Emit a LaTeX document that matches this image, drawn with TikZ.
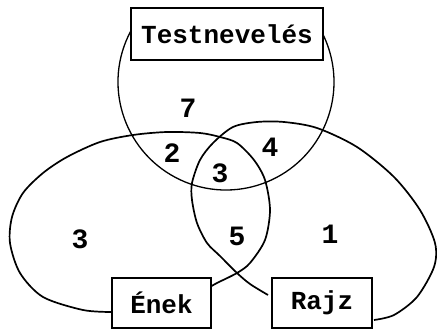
\documentclass[tikz,border=0pt]{standalone}
\usepackage{fontspec}
\setmonofont{Liberation Mono}
\usepackage{tikz}

\begin{document}
\begin{tikzpicture}[x=1pt,y=1pt,
            set/.style={line width=1.7pt},
            box/.style={draw, line width=1.8pt, fill=white, inner sep=0pt,
                font=\ttfamily\bfseries\fontsize{26}{26}\selectfont},
            count/.style={font=\ttfamily\bfseries\fontsize{28}{28}\selectfont}]
            \useasboundingbox (0,0) rectangle (437,329);
            % Testneveles
            \draw[set, line width=1.3pt] (226,247) ++(152:108) arc[start angle=152, end angle=386, radius=108];
            % Enek
            \draw[set] plot[smooth] coordinates {(112,17) (83,19) (43,32) (20,56) (10,86) (12,112) (23,136)
                (43,156) (67,172) (100,187) (133,194) (167,197) (200,196) (220,192) (237,186) (254,169)
                (265,149) (270,119) (265,89) (250,66) (237,56) (217,46) (210,42)};
            % Rajz
            \draw[set] plot[smooth] coordinates {(268,34) (250,45) (237,56) (220,73) (207,86) (197,106)
                (192,129) (192,146) (200,169) (213,186) (233,202) (257,207) (284,207) (317,201) (357,182)
                (394,152) (420,119) (435,86) (434,62) (417,32) (394,14) (374,9)};
            \node[box, minimum width=192, minimum height=52] (tn) at (227,295) {Testnevelés};
            \node[box, minimum width=99, minimum height=50] (enek) at (161.5,26) {Ének};
            \node[box, minimum width=100, minimum height=50] (rajz) at (322,26) {Rajz};
            \node[count] (n7) at (188,221) {7};
            \node[count] (n2) at (172,176) {2};
            \node[count] (n3) at (220,156) {3};
            \node[count] (n4) at (270,182) {4};
            \node[count] (e3) at (80,90) {3};
            \node[count] (n5) at (237,93) {5};
            \node[count] (r1) at (330,95) {1};
        \end{tikzpicture}
\end{document}
